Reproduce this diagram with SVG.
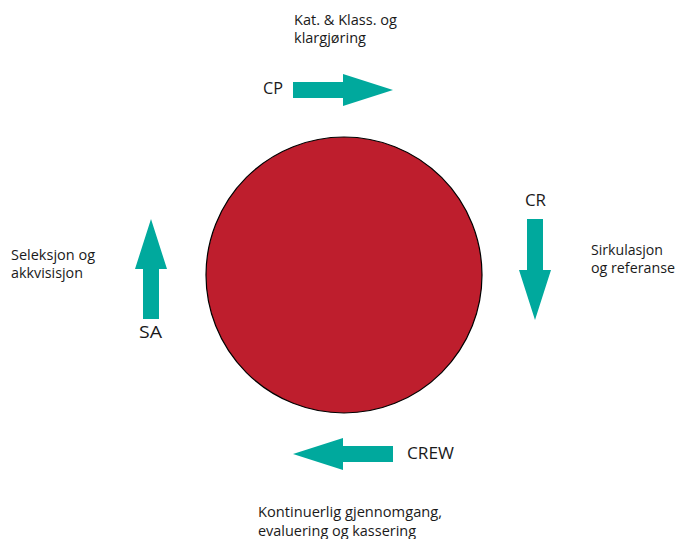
<svg xmlns="http://www.w3.org/2000/svg" width="677" height="539" viewBox="0 0 677 539">
<style>
.t{font-family:"Open Sans","Noto Sans",sans-serif;font-size:14.5px;fill:#1a1a1a}
.l{font-family:"Open Sans","Noto Sans",sans-serif;font-size:16px;fill:#1a1a1a}
.a{fill:#00A99D;stroke:none}
</style>
<rect width="677" height="539" fill="#ffffff"/>
<g id="core">
<circle cx="344" cy="275" r="138" fill="#BE1E2D" stroke="#000000" stroke-width="1.2"/>
</g>
<g id="connectors">
<polygon id="arrow-cp" class="a" points="293,82 343,82 343,74 393,90 343,106 343,98 293,98"/>
<polygon id="arrow-cr" class="a" points="527,219 543,219 543,270 551,270 535,320 519,270 527,270"/>
<polygon id="arrow-crew" class="a" points="393,446 343,446 343,438 293,454 343,470 343,462 393,462"/>
<polygon id="arrow-sa" class="a" points="143,319 143,269 135,269 151,219 167,269 159,269 159,319"/>
</g>
<g id="node-cp">
<text class="l" x="263" y="94" textLength="20" lengthAdjust="spacingAndGlyphs">CP</text>
<text class="t" x="294" y="25" textLength="103" lengthAdjust="spacingAndGlyphs">Kat. &amp; Klass. og</text>
<text class="t" x="294" y="43" textLength="72" lengthAdjust="spacingAndGlyphs">klargjøring</text>
</g>
<g id="node-cr">
<text class="l" x="525" y="206" textLength="21" lengthAdjust="spacingAndGlyphs">CR</text>
<text class="t" x="591" y="255" textLength="72" lengthAdjust="spacingAndGlyphs">Sirkulasjon</text>
<text class="t" x="591" y="273" textLength="84" lengthAdjust="spacingAndGlyphs">og referanse</text>
</g>
<g id="node-crew">
<text class="l" x="407" y="459" textLength="47" lengthAdjust="spacingAndGlyphs">CREW</text>
<text class="t" x="258" y="517" textLength="184" lengthAdjust="spacingAndGlyphs">Kontinuerlig gjennomgang,</text>
<text class="t" x="258" y="536" textLength="158" lengthAdjust="spacingAndGlyphs">evaluering og kassering</text>
</g>
<g id="node-sa">
<text class="l" x="139" y="338" textLength="23" lengthAdjust="spacingAndGlyphs">SA</text>
<text class="t" x="11" y="260" textLength="84" lengthAdjust="spacingAndGlyphs">Seleksjon og</text>
<text class="t" x="11" y="278" textLength="72" lengthAdjust="spacingAndGlyphs">akkvisisjon</text>
</g>
</svg>
